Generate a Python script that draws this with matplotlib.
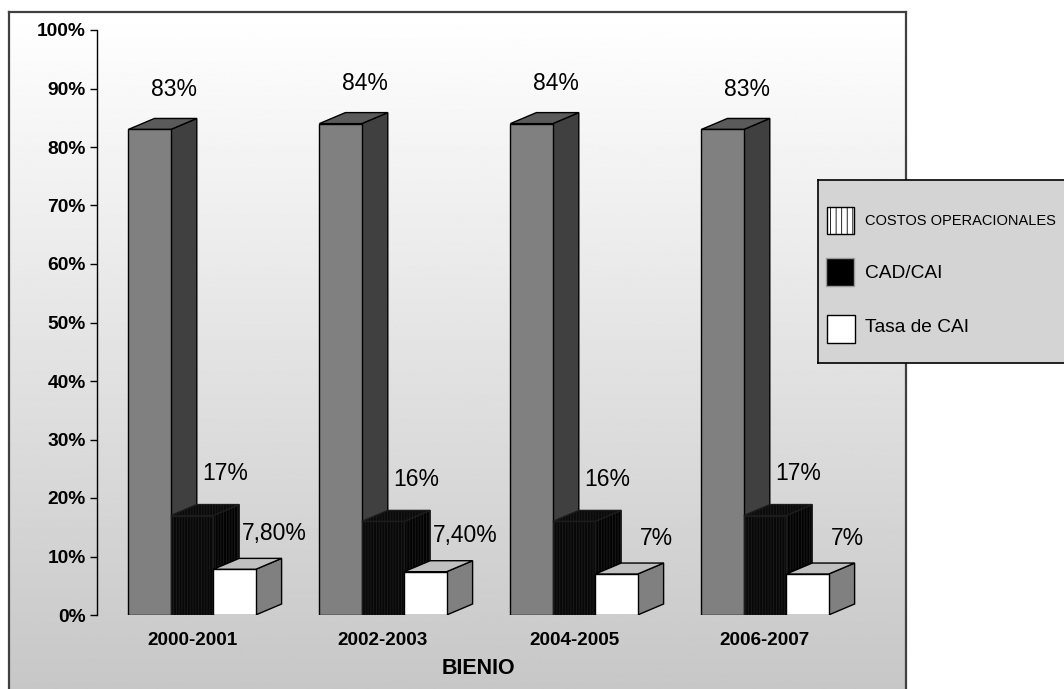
import numpy as np
import matplotlib.pyplot as plt
from matplotlib.patches import Polygon, Rectangle

plt.rcParams['font.family'] = ['Liberation Sans', 'DejaVu Sans']
plt.rcParams['hatch.linewidth'] = 0.6

# ---------- data ----------
bienios = ["2000-2001", "2002-2003", "2004-2005", "2006-2007"]
costos = [83, 84, 84, 83]
cad_cai = [17, 16, 16, 17]
tasa_cai = [7.8, 7.4, 7, 7]
lbl_costos = ["83%", "84%", "84%", "83%"]
lbl_cad = ["17%", "16%", "16%", "17%"]
lbl_tasa = ["7,80%", "7,40%", "7%", "7%"]
series_names = ["COSTOS OPERACIONALES", "CAD/CAI", "Tasa de CAI"]

W, H = 1064, 689
fig = plt.figure(figsize=(W / 100, H / 100), dpi=100)

# ---------- gradient frame ----------
bg = fig.add_axes([9 / W, 0, (906 - 9) / W, (H - 12) / H], zorder=0)
grad = np.linspace(1.0, 0.78, 256).reshape(-1, 1)
bg.imshow(grad, cmap='gray', vmin=0, vmax=1, aspect='auto', extent=[0, 1, 0, 1])
bg.set_xticks([])
bg.set_yticks([])
for s in ['left', 'top', 'right']:
    bg.spines[s].set_color('#404040')
    bg.spines[s].set_linewidth(1.6)
bg.spines['bottom'].set_visible(False)

# ---------- main axes ----------
ax = fig.add_axes([97 / W, (H - 615) / H, (909 - 97) / W, 585 / H], zorder=1)
ax.patch.set_visible(False)
xmin = -95 / 191
ax.set_xlim(xmin, xmin + 812 / 191)
ax.set_ylim(0, 100)

bw = 0.222
ddx = 26 / 191          # depth in x data units
ddy = 11 / 5.85         # depth in y data units
x = np.arange(len(bienios))

styles = [
    dict(front='#808080', top='#5a5a5a', side='#404040', hatch=None, edge='black'),
    dict(front='#080808', top='#0a0a0a', side='#030303', hatch='||||||', edge='#1c1c1c'),
    dict(front='#ffffff', top='#c0c0c0', side='#808080', hatch=None, edge='black'),
]
offsets = [-bw, 0, bw]
values = [costos, cad_cai, tasa_cai]
labels = [lbl_costos, lbl_cad, lbl_tasa]
lbl_off = [(24 / 191, 40 / 5.85), (33 / 191, 42 / 5.85), (40 / 191, 36 / 5.85)]

for i, (vals, st, off) in enumerate(zip(values, styles, offsets)):
    z = 2 + i * 3
    xs = x + off
    for xi, v in zip(xs, vals):
        l, r = xi - bw / 2, xi + bw / 2
        side = Polygon([(r, 0), (r + ddx, ddy), (r + ddx, v + ddy), (r, v)],
                       closed=True, facecolor=st['side'], edgecolor=st['edge'],
                       lw=1, hatch=st['hatch'], zorder=z)
        top = Polygon([(l, v), (l + ddx, v + ddy), (r + ddx, v + ddy), (r, v)],
                      closed=True, facecolor=st['top'], edgecolor=st['edge'],
                      lw=1, hatch=st['hatch'], zorder=z + 1)
        ax.add_patch(side)
        ax.add_patch(top)
    ax.bar(xs, vals, width=bw, color=st['front'], edgecolor=st['edge'],
           linewidth=1, hatch=st['hatch'], zorder=z + 2)
    for xi, v, t in zip(xs, vals, labels[i]):
        ax.text(xi + lbl_off[i][0], v + lbl_off[i][1], t, ha='center', va='center',
                fontsize=16.5, zorder=20)

ax.set_yticks(np.arange(0, 101, 10))
ax.set_yticklabels([f"{v}%" for v in range(0, 101, 10)], fontsize=13.8, fontweight='bold')
ax.set_xticks(x)
ax.set_xticklabels(bienios, fontsize=13.6, fontweight='bold')
ax.tick_params(axis='y', direction='out', length=5, width=1, pad=3)
ax.tick_params(axis='x', length=0, pad=12)
for s in ['top', 'right', 'bottom']:
    ax.spines[s].set_visible(False)
ax.spines['left'].set_linewidth(1)
fig.text(478 / W, 1 - 668 / H, "BIENIO", ha='center', va='center',
         fontsize=15.5, fontweight='bold')

# ---------- legend ----------
lg = fig.add_axes([818 / W, 1 - 363 / H, (1064 - 818 + 10) / W, (363 - 180) / H], zorder=5)
lg.set_facecolor('#d4d4d4')
lg.set_xlim(0, 256)
lg.set_ylim(183, 0)
lg.set_xticks([])
lg.set_yticks([])
for s in lg.spines.values():
    s.set_linewidth(1.2)
    s.set_color('black')
lg.add_patch(Rectangle((9, 27), 27, 27, facecolor='white', edgecolor='black',
                       hatch='|||', lw=1))
lg.add_patch(Rectangle((8, 78), 28, 28, facecolor='black', edgecolor='#9a9a9a',
                       hatch='::', lw=1))
lg.add_patch(Rectangle((9, 135), 28, 28, facecolor='white', edgecolor='black', lw=1))
lg.text(47, 41, series_names[0], va='center', fontsize=10.5)
lg.text(47, 93, series_names[1], va='center', fontsize=13.8)
lg.text(47, 148, series_names[2], va='center', fontsize=13.8)

fig.savefig('out.png', dpi=100)
